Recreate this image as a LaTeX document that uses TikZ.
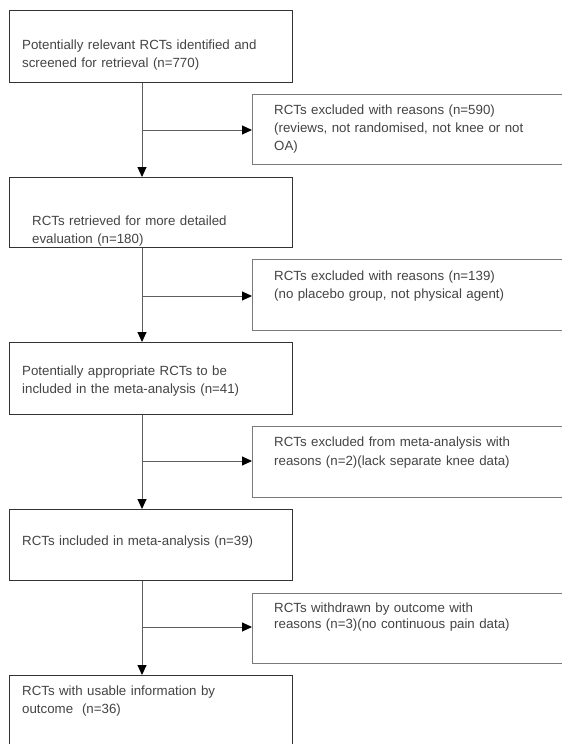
\documentclass[tikz,border=0pt]{standalone}
\usepackage{fontspec}
\setmainfont{Liberation Sans}
\usetikzlibrary{arrows.meta}
\definecolor{txtc}{HTML}{444444}
\definecolor{lbox}{HTML}{333333}
\definecolor{rbox}{HTML}{7A7A7A}
\definecolor{conc}{HTML}{5C5E66}
\tikzset{
  lbx/.style={draw=lbox, line width=1pt, rectangle, inner sep=0pt, anchor=north west, minimum width=283pt},
  rbx/.style={draw=rbox, line width=1pt, rectangle, inner sep=0pt, anchor=north west, minimum width=348pt},
  txt/.style={anchor=base west, inner sep=0pt, text width=280pt, align=left, text=txtc,
     font=\fontsize{13.3}{18}\selectfont},
  conn/.style={draw=conc, line width=1pt, -{Triangle[length=10pt,width=9pt,fill=black,color=black]}},
}
\begin{document}
\begin{tikzpicture}[x=1pt,y=-1pt]
\clip (0,0) rectangle (562,744);
\fill[white] (0,0) rectangle (562,744);
% left boxes
\node[lbx, minimum height=72pt] (b1) at (9,10) {};
\node[lbx, minimum height=70pt] (b2) at (9,177) {};
\node[lbx, minimum height=72pt] (b3) at (9,342) {};
\node[lbx, minimum height=71pt] (b4) at (9,509) {};
\node[lbx, minimum height=95pt] (b5) at (9,675) {};
% right boxes
\node[rbx, minimum height=70pt] (r1) at (252,94) {};
\node[rbx, minimum height=71pt] (r2) at (252,259) {};
\node[rbx, minimum height=71pt] (r3) at (252,426) {};
\node[rbx, minimum height=70pt] (r4) at (252,593) {};
% texts
\node[txt] (t1) at (22,49.5) {Potentially relevant RCTs identified and\\screened for retrieval (n=770)};
\node[txt] (t2) at (32,225) {RCTs retrieved for more detailed\\evaluation (n=180)};
\node[txt] (t3) at (22,375) {Potentially appropriate RCTs to be\\included in the meta-analysis (n=41)};
\node[txt] (t4) at (22,545) {RCTs included in meta-analysis (n=39)};
\node[txt] (t5) at (22,695) {RCTs with usable information by\\outcome\ \ (n=36)};
\node[txt, text width=300pt] (s1) at (274,114) {RCTs excluded with reasons (n=590)\\(reviews, not randomised, not knee or not\\OA)};
\node[txt] (s2) at (274,280) {RCTs excluded with reasons (n=139)\\(no placebo group, not physical agent)};
\node[txt, font=\fontsize{13.3}{19}\selectfont] (s3) at (274,446) {RCTs excluded from meta-analysis with\\reasons (n=2)(lack separate knee data)};
\node[txt, font=\fontsize{13.3}{16.5}\selectfont] (s4) at (274,612) {RCTs withdrawn by outcome with\\reasons (n=3)(no continuous pain data)};
% trunk coordinate and junctions
\coordinate (tk) at (142,0);
\coordinate (j1) at (142,130);
\coordinate (j2) at (142,296);
\coordinate (j3) at (142,461);
\coordinate (j4) at (142,627);
% connectors
\draw[conn] (b1.south -| tk) -- (b2.north -| tk);
\draw[conn] (b2.south -| tk) -- (b3.north -| tk);
\draw[conn] (b3.south -| tk) -- (b4.north -| tk);
\draw[conn] (b4.south -| tk) -- (b5.north -| tk);
\draw[conn] (j1) -- (j1 -| r1.west);
\draw[conn] (j2) -- (j2 -| r2.west);
\draw[conn] (j3) -- (j3 -| r3.west);
\draw[conn] (j4) -- (j4 -| r4.west);
\end{tikzpicture}
\end{document}
